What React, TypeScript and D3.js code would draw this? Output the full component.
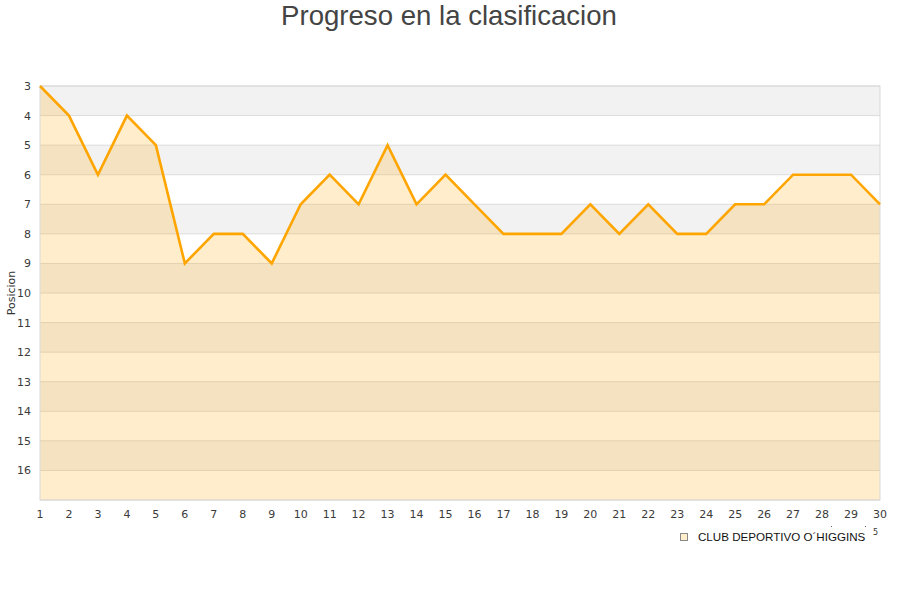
import React, { useEffect, useRef } from 'react';
import * as d3 from 'd3';

// jornadas 1..30 and the team's position after each one
const rounds: number[] = [1, 2, 3, 4, 5, 6, 7, 8, 9, 10, 11, 12, 13, 14, 15, 16, 17, 18, 19, 20, 21, 22, 23, 24, 25, 26, 27, 28, 29, 30];
const positions: number[] = [3, 4, 6, 4, 5, 9, 8, 8, 9, 7, 6, 7, 5, 7, 6, 7, 8, 8, 8, 7, 8, 7, 8, 8, 7, 7, 6, 6, 6, 7];
const yTicks: number[] = [3, 4, 5, 6, 7, 8, 9, 10, 11, 12, 13, 14, 15, 16];
const teamName = 'CLUB DEPORTIVO O´HIGGINS';
const chartTitle = 'Progreso en la clasificacion';

const App: React.FC = () => {
    const ref = useRef<SVGSVGElement>(null);

    useEffect(() => {
        const svg = d3.select(ref.current);
        svg.selectAll('*').remove();

        const left = 40, right = 880, top = 86, bottom = 500;
        const x = d3.scaleLinear().domain([1, 30]).range([left, right]);
        const y = d3.scaleLinear().domain([3, 17]).range([top, bottom]);

        //title
        svg.append('text')
            .attr('x', 449).attr('y', 25)
            .attr('text-anchor', 'middle')
            .attr('font-family', 'Liberation Sans, Arial, sans-serif')
            .attr('font-size', 27.6)
            .attr('fill', '#444')
            .text(chartTitle);

        //alternating bands
        const bands = d3.range(3, 17);
        svg.append('g').selectAll('rect')
            .data(bands)
            .enter().append('rect')
            .attr('x', left)
            .attr('y', d => y(d))
            .attr('width', right - left)
            .attr('height', d => y(d + 1) - y(d))
            .attr('fill', d => (d - 3) % 2 === 0 ? '#f2f2f2' : '#ffffff');

        //grid lines
        svg.append('g').selectAll('line')
            .data(d3.range(3, 18))
            .enter().append('line')
            .attr('x1', left).attr('x2', right)
            .attr('y1', d => y(d)).attr('y2', d => y(d))
            .attr('stroke', '#dcdcdc').attr('stroke-width', 1);

        //area under the line
        const area = d3.area<number>()
            .x((_, i) => x(rounds[i]))
            .y0(y(17))
            .y1(d => y(d));
        svg.append('path')
            .datum(positions)
            .attr('d', area)
            .attr('fill', '#ffa500')
            .attr('fill-opacity', 0.2);

        //plot border
        svg.append('rect')
            .attr('x', left).attr('y', top)
            .attr('width', right - left).attr('height', bottom - top)
            .attr('fill', 'none')
            .attr('stroke', '#d9d9d9').attr('stroke-width', 1);

        //line
        const line = d3.line<number>()
            .x((_, i) => x(rounds[i]))
            .y(d => y(d));
        svg.append('path')
            .datum(positions)
            .attr('d', line)
            .attr('fill', 'none')
            .attr('stroke', '#ffa500')
            .attr('stroke-width', 2.6)
            .attr('stroke-linejoin', 'miter');

        //y tick labels
        svg.append('g').selectAll('text')
            .data(yTicks)
            .enter().append('text')
            .attr('x', 31)
            .attr('y', d => y(d) + 4)
            .attr('text-anchor', 'end')
            .attr('font-family', 'DejaVu Sans, sans-serif')
            .attr('font-size', 11)
            .attr('fill', '#3a3a3a')
            .text(d => d);

        //x tick labels
        svg.append('g').selectAll('text')
            .data(rounds)
            .enter().append('text')
            .attr('x', d => x(d))
            .attr('y', 518)
            .attr('text-anchor', 'middle')
            .attr('font-family', 'DejaVu Sans, sans-serif')
            .attr('font-size', 11)
            .attr('fill', '#3a3a3a')
            .text(d => d);

        //y axis title
        svg.append('text')
            .attr('transform', 'translate(15, 293) rotate(-90)')
            .attr('text-anchor', 'middle')
            .attr('font-family', 'DejaVu Sans, sans-serif')
            .attr('font-size', 11)
            .attr('fill', '#333')
            .text('Posicion');

        //legend
        svg.append('rect')
            .attr('x', 680.5).attr('y', 533.5)
            .attr('width', 7).attr('height', 7)
            .attr('fill', '#ffedcc')
            .attr('stroke', '#888').attr('stroke-width', 1);
        svg.append('text')
            .attr('x', 698).attr('y', 541)
            .attr('font-family', 'Liberation Sans, Arial, sans-serif')
            .attr('font-size', 11.6)
            .attr('fill', '#111')
            .text(teamName);
        svg.append('text')
            .attr('x', 873).attr('y', 535)
            .attr('font-family', 'DejaVu Sans, sans-serif')
            .attr('font-size', 8)
            .attr('fill', '#333')
            .text('5');
        //stray marks seen near the legend
        svg.append('g').selectAll('rect')
            .data([831, 865])
            .enter().append('rect')
            .attr('x', d => d).attr('y', 526)
            .attr('width', 1).attr('height', 1)
            .attr('fill', '#666');
    }, []);

    return (
        <svg ref={ref} width={900} height={600}
            style={{ position: 'absolute', left: 0, top: 0, background: '#fff' }} />
    );
};

export default App;
